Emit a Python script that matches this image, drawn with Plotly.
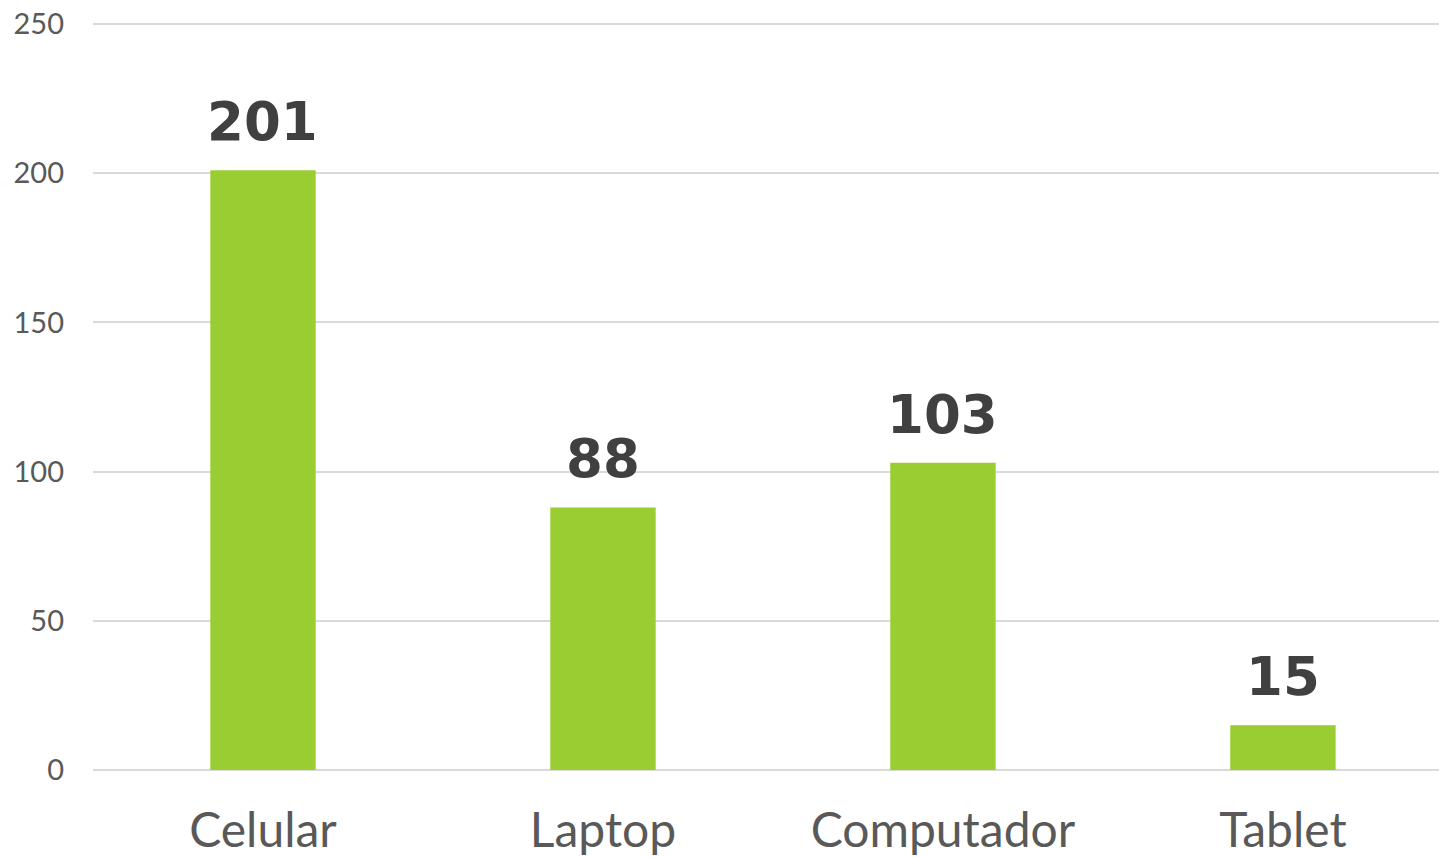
import plotly.graph_objects as go

categories = ["Celular", "Laptop", "Computador", "Tablet"]
values = [201, 88, 103, 15]
y_ticks = [0, 50, 100, 150, 200, 250]

fig = go.Figure()
fig.add_trace(go.Bar(
    x=categories, y=values, width=0.31,
    marker=dict(color="#9ACD32", line=dict(width=0)),
    hoverinfo="skip",
))
for c, v in zip(categories, values):
    fig.add_annotation(x=c, y=v, text=str(v), showarrow=False,
                       yanchor="bottom", yshift=16,
                       font=dict(family="DejaVu Sans", size=53, color="#404040", weight="bold"))

fig.update_layout(
    width=1439, height=857,
    margin=dict(l=93, r=0, t=23, b=85, pad=0),
    paper_bgcolor="white", plot_bgcolor="white",
    showlegend=False,
    font=dict(family="Lato", color="#595959"),
)
fig.update_xaxes(range=[-0.5, 3.459], showgrid=False, showline=False, ticks="",
                 tickfont=dict(size=48, color="#595959"), ticklabelstandoff=28)
fig.update_yaxes(range=[0, 250.35], tickvals=y_ticks, showgrid=True, gridcolor="#D9D9D9",
                 gridwidth=2, zeroline=True, zerolinecolor="#D9D9D9", zerolinewidth=2,
                 showline=False, ticks="", tickfont=dict(size=29, color="#595959"),
                 ticklabelstandoff=28)
fig.write_html("out.html", config={"displayModeBar": False},
               post_script="document.body.style.margin='0';document.body.style.overflow='hidden';")
